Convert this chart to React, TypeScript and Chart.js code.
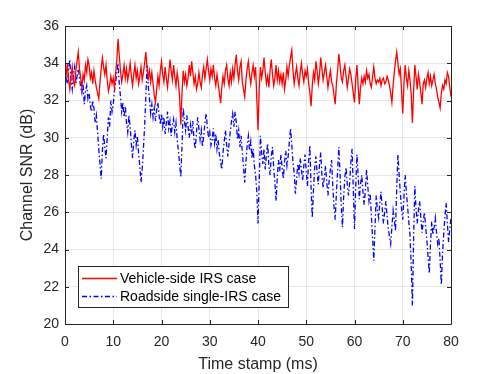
import React, { useEffect, useRef } from "react";
import { Chart, registerables } from "chart.js";

Chart.register(...registerables);

const STEP_MS = 0.25;

const vehicleSideSNR = [
  32.9, 33.4, 34.0, 33.1, 32.6, 33.3, 33.8, 33.0, 32.8, 33.6, 34.1, 34.6, 33.7, 33.2, 32.7, 33.4, 33.1, 33.9, 33.5, 34.2,
  33.9, 33.2, 33.5, 32.9, 33.6, 33.1, 32.7, 32.4, 32.1, 33.0, 33.7, 34.3, 33.8, 33.4, 33.9, 33.1, 32.5, 32.8, 33.3, 32.9,
  33.2, 32.7, 33.5, 34.2, 35.3, 34.4, 33.6, 33.0, 33.4, 33.9, 33.2, 33.7, 33.1, 33.5, 34.0, 33.3, 32.8, 33.4, 33.9, 33.2,
  33.6, 32.9, 33.3, 33.8, 33.1, 33.5, 34.0, 34.6, 33.8, 33.2, 33.6, 33.0, 33.5, 32.9, 32.3, 31.9, 32.6, 33.3, 32.8, 33.6,
  34.1, 33.4, 33.0, 33.8, 33.2, 32.7, 33.4, 34.2, 33.6, 33.1, 33.9, 33.3, 32.8, 33.5, 33.0, 32.2, 30.7, 32.4, 33.6, 33.0,
  33.4, 32.8, 33.2, 33.9, 33.3, 34.1, 33.5, 32.9, 33.3, 32.6, 32.9, 33.5, 33.0, 32.7, 33.4, 33.8, 33.2, 33.7, 34.2, 33.6,
  33.1, 33.7, 33.3, 33.9, 33.2, 32.8, 33.4, 32.9, 32.4, 31.85, 32.7, 33.3, 32.9, 33.6, 33.9, 33.2, 32.8, 33.5, 33.0, 33.7,
  33.2, 33.9, 34.45, 33.6, 33.1, 33.8, 34.1, 33.0, 32.6, 32.2, 33.1, 33.7, 34.1, 33.4, 32.9, 33.5, 33.9, 33.3, 33.8, 32.1,
  30.4, 32.6, 33.8, 33.2, 33.6, 34.3, 33.5, 32.9, 33.3, 32.7, 33.6, 34.2, 33.4, 32.8, 33.2, 33.9, 33.1, 33.6, 33.0, 33.4,
  32.9, 33.5, 32.6, 33.1, 33.8, 33.3, 33.9, 34.3, 34.7, 33.6, 32.9, 33.4, 33.8, 33.2, 32.8, 33.5, 34.0, 33.4, 33.0, 33.6,
  33.3, 33.7, 32.9, 32.4, 31.7, 32.8, 33.5, 33.1, 34.1, 33.6, 32.9, 33.4, 34.3, 33.7, 33.1, 33.5, 33.9, 33.3, 32.7, 33.2,
  33.6, 33.0, 32.8, 32.3, 31.8, 32.9, 33.6, 34.5, 33.9, 33.2, 33.0, 33.6, 33.9, 33.3, 32.7, 33.2, 33.7, 33.4, 32.9, 32.4,
  31.9, 33.1, 33.9, 32.8, 31.8, 32.7, 33.2, 32.9, 33.3, 33.0, 33.6, 33.2, 33.4, 32.9, 32.7, 33.3, 33.8, 33.2, 32.9, 33.1,
  33.0, 33.2, 32.8, 33.1, 33.2, 32.9, 33.0, 33.3, 33.1, 32.8, 32.4, 31.9, 32.8, 33.5, 34.1, 34.6, 34.0, 33.4, 33.7, 32.5,
  31.3, 32.9, 33.9, 33.2, 32.8, 33.6, 33.1, 32.3, 30.8, 32.5, 33.9, 33.3, 32.6, 33.4, 33.0, 32.4, 31.8, 32.9, 33.1, 32.7,
  33.2, 33.5, 32.9, 33.3, 32.8, 33.1, 33.4, 32.9, 32.6, 32.2, 31.9, 31.6, 32.4, 32.8, 32.6, 33.1, 32.9, 33.5, 33.3, 32.7,
  32.2,
];

const roadsideSNR = [
  32.8, 33.3, 32.9, 33.7, 34.2, 33.1, 32.6, 33.4, 33.8, 32.9, 33.3, 33.7, 33.2, 32.7, 32.4, 32.9, 31.8, 32.5, 32.8, 32.1,
  32.4, 31.7, 31.4, 32.0, 31.6, 30.8, 31.2, 30.3, 29.4, 28.6, 27.8, 29.3, 30.2, 29.5, 28.9, 30.0, 31.1, 30.6, 32.0, 31.4,
  31.8, 32.5, 33.0, 33.5, 34.0, 32.9, 32.2, 31.4, 31.9, 31.1, 31.7, 30.8, 30.3, 31.2, 30.6, 29.7, 28.9, 29.8, 30.4, 29.6,
  30.1, 29.2, 28.5, 27.6, 28.3, 29.4, 30.6, 32.2, 33.9, 32.8, 32.1, 31.3, 31.8, 31.1, 31.6, 30.9, 31.5, 31.9, 31.2, 30.7,
  31.3, 30.6, 31.1, 30.2, 30.8, 31.4, 30.5, 30.9, 30.1, 30.7, 31.0, 30.3, 30.8, 29.9, 29.3, 28.6, 27.9, 29.5, 31.6, 30.9,
  30.4, 31.2, 30.6, 30.0, 30.7, 30.2, 30.9, 29.8, 29.4, 30.3, 31.1, 30.5, 29.9, 30.4, 29.5, 30.1, 30.8, 31.3, 30.6, 30.0,
  30.3, 29.6, 29.9, 30.5, 29.7, 30.2, 29.4, 29.9, 29.1, 28.7, 28.3, 29.2, 29.8, 30.4, 29.6, 29.0, 29.7, 30.3, 30.9, 31.3,
  30.6, 31.4, 30.8, 29.9, 30.4, 29.5, 30.1, 29.2, 28.4, 27.6, 28.7, 29.6, 30.1, 29.3, 29.8, 28.9, 29.4, 28.5, 28.0, 27.1,
  25.4, 27.6, 30.1, 29.2, 28.6, 29.4, 28.3, 29.1, 29.7, 28.5, 28.0, 29.0, 29.5, 28.4, 27.6, 26.6, 27.9, 28.8, 28.2, 29.1,
  28.4, 27.8, 28.7, 29.3, 28.5, 29.0, 29.8, 30.5, 29.6, 28.7, 28.1, 27.0, 27.8, 28.6, 28.1, 28.9, 28.3, 27.7, 28.5, 29.1,
  28.2, 27.4, 28.8, 29.6, 27.3, 25.7, 27.2, 28.4, 29.0, 28.1, 27.5, 28.6, 29.2, 28.0, 27.3, 27.9, 28.5, 27.6, 26.9, 27.7,
  28.3, 28.8, 27.4, 26.3, 25.6, 27.0, 28.2, 29.5, 28.1, 26.4, 25.2, 26.8, 27.9, 28.4, 27.5, 26.9, 27.6, 28.7, 29.4, 27.2,
  25.1, 27.3, 29.1, 28.0, 26.7, 27.5, 28.0, 27.1, 26.4, 27.2, 28.3, 27.4, 26.6, 27.0, 25.8, 24.6, 23.4, 25.2, 26.9, 26.1,
  25.7, 26.5, 27.1, 26.2, 25.4, 26.0, 26.6, 25.8, 25.1, 24.7, 24.3, 25.2, 26.1, 25.6, 25.0, 27.3, 29.1, 28.0, 27.0, 26.2,
  25.6, 26.8, 28.0, 27.1, 26.3, 25.5, 24.8, 23.2, 21.0, 24.6, 27.4, 26.2, 25.4, 26.1, 26.6, 25.7, 24.9, 25.5, 26.0, 25.2,
  24.5, 23.6, 22.7, 24.3, 25.5, 24.8, 25.2, 25.7, 24.9, 24.3, 24.6, 23.4, 22.1, 23.8, 24.9, 25.8, 26.5, 25.4, 24.4, 25.1,
  25.7,
];

const seriesLabels = ["Vehicle-side IRS case", "Roadside single-IRS case"];
const xTitle = "Time stamp (ms)";
const yTitle = "Channel SNR (dB)";
const X_MIN = 0, X_MAX = 80, X_STEP = 10;
const Y_MIN = 20, Y_MAX = 36, Y_STEP = 2;

const FONT = "'Liberation Sans', Arial, Helvetica, sans-serif";
const RED = "#ff0000";
const BLUE = "#0000ff";
const BLUE_DASH = [5, 2.5, 1.5, 2.5];

const toPoints = (vals: number[]) => vals.map((v, i) => ({ x: i * STEP_MS, y: v }));

const framePlugin = {
  id: "matlabFrame",
  afterDatasetsDraw(chart: any) {
    const { ctx, chartArea } = chart;
    const { left, right, top, bottom } = chartArea;
    const xs = chart.scales.x;
    const ys = chart.scales.y;
    ctx.save();
    ctx.strokeStyle = "#262626";
    ctx.lineWidth = 1;
    ctx.beginPath();
    ctx.rect(Math.round(left) + 0.5, Math.round(top) + 0.5, Math.round(right - left), Math.round(bottom - top));
    ctx.stroke();
    const tl = 4;
    ctx.beginPath();
    for (let v = X_MIN; v <= X_MAX; v += X_STEP) {
      const px = Math.round(xs.getPixelForValue(v)) + 0.5;
      ctx.moveTo(px, bottom);
      ctx.lineTo(px, bottom - tl);
      ctx.moveTo(px, top);
      ctx.lineTo(px, top + tl);
    }
    for (let v = Y_MIN; v <= Y_MAX; v += Y_STEP) {
      const py = Math.round(ys.getPixelForValue(v)) + 0.5;
      ctx.moveTo(left, py);
      ctx.lineTo(left + tl, py);
      ctx.moveTo(right, py);
      ctx.lineTo(right - tl, py);
    }
    ctx.stroke();

    const bx = 78.5, by = 266.5, bw = 210, bh = 41;
    ctx.fillStyle = "#ffffff";
    ctx.fillRect(bx, by, bw, bh);
    ctx.strokeStyle = "#262626";
    ctx.strokeRect(bx, by, bw, bh);
    const rows = [
      { label: seriesLabels[0], color: RED, dash: [] as number[], y: 278.5 },
      { label: seriesLabels[1], color: BLUE, dash: BLUE_DASH, y: 296.5 },
    ];
    ctx.font = `14px ${FONT}`;
    ctx.textBaseline = "middle";
    ctx.textAlign = "left";
    for (const r of rows) {
      ctx.beginPath();
      ctx.strokeStyle = r.color;
      ctx.lineWidth = 1.3;
      ctx.setLineDash(r.dash);
      ctx.moveTo(82, r.y);
      ctx.lineTo(117, r.y);
      ctx.stroke();
      ctx.setLineDash([]);
      ctx.fillStyle = "#000000";
      ctx.fillText(r.label, 120, r.y + 0.5);
    }
    ctx.restore();
  },
};

export default function App() {
  const canvasRef = useRef<HTMLCanvasElement | null>(null);

  useEffect(() => {
    if (!canvasRef.current) return;
    const chart = new Chart(canvasRef.current, {
      type: "line",
      data: {
        datasets: [
          {
            label: seriesLabels[0],
            data: toPoints(vehicleSideSNR),
            borderColor: RED,
            backgroundColor: RED,
            borderWidth: 1.3,
            pointRadius: 0,
            tension: 0,
          },
          {
            label: seriesLabels[1],
            data: toPoints(roadsideSNR),
            borderColor: BLUE,
            backgroundColor: BLUE,
            borderWidth: 1.3,
            borderDash: BLUE_DASH,
            pointRadius: 0,
            tension: 0,
          },
        ],
      },
      options: {
        responsive: false,
        animation: false,
        events: [],
        layout: { padding: { left: 0, top: 26, right: 47, bottom: 0 } },
        plugins: {
          legend: { display: false },
          tooltip: { enabled: false },
        },
        scales: {
          x: {
            type: "linear",
            min: X_MIN,
            max: X_MAX,
            border: { display: false },
            grid: { color: "#e6e6e6", drawTicks: false, lineWidth: 1 },
            ticks: {
              stepSize: X_STEP,
              padding: 10,
              color: "#262626",
              font: { family: FONT, size: 14 },
              maxRotation: 0,
            },
            title: {
              display: true,
              text: xTitle,
              color: "#262626",
              font: { family: FONT, size: 16 },
              padding: { top: 2.5, bottom: 0 },
            },
            afterFit: (s: any) => {
              s.height = 50;
            },
          },
          y: {
            type: "linear",
            min: Y_MIN,
            max: Y_MAX,
            border: { display: false },
            grid: { color: "#e6e6e6", drawTicks: false, lineWidth: 1 },
            ticks: {
              stepSize: Y_STEP,
              padding: 6,
              color: "#262626",
              font: { family: FONT, size: 14 },
            },
            title: {
              display: true,
              text: yTitle,
              color: "#262626",
              font: { family: FONT, size: 16 },
              padding: { top: 17.5, bottom: 0 },
            },
            afterFit: (s: any) => {
              s.width = 65;
            },
          },
        },
      },
      plugins: [framePlugin],
    });
    return () => chart.destroy();
  }, []);

  return (
    <div style={{ position: "absolute", left: 0, top: 0, width: 498, height: 374, background: "#ffffff" }}>
      <canvas ref={canvasRef} width={498} height={374} style={{ display: "block" }} />
    </div>
  );
}
